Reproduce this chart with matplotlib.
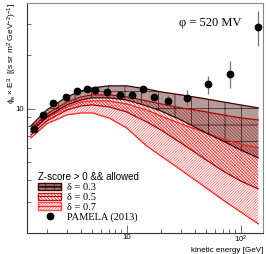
import numpy as np
import matplotlib.pyplot as plt
from matplotlib.patches import Patch
from matplotlib.lines import Line2D

plt.rcParams['font.family'] = ['Liberation Sans', 'DejaVu Sans']
plt.rcParams['hatch.linewidth'] = 0.45

# model band edges (phi x E^3) read at these energies
energy = [1.45, 2, 3, 4, 5, 7, 10, 15, 20, 30, 50, 70, 100, 143]
d03_up = [8.03, 9.87, 11.68, 12.62, 13.12, 13.47, 13.47, 12.95, 12.46, 11.99, 11.38, 10.95, 10.53, 10.13]
d03_lo = [7.43, 9.02, 10.53, 11.23, 11.53, 11.53, 11.23, 10.39, 9.74, 8.67, 7.33, 6.61, 5.88, 5.31]
d05_up = [7.72, 9.37, 10.95, 11.68, 11.99, 11.99, 11.68, 11.09, 10.67, 10.13, 9.62, 9.25, 8.90, 8.67]
d05_lo = [7.14, 8.56, 9.87, 10.39, 10.53, 10.26, 9.62, 8.45, 7.62, 6.44, 5.17, 4.48, 3.94, 3.55]
d07_up = [7.43, 8.90, 10.26, 10.95, 11.09, 11.09, 10.67, 9.87, 9.13, 8.24, 7.33, 6.78, 6.36, 6.04]
d07_lo = [6.87, 8.24, 9.25, 9.49, 9.49, 8.90, 7.82, 6.20, 5.44, 4.54, 3.60, 3.08, 2.64, 2.26]

# PAMELA (2013)
pam_e = [1.55, 1.84, 2.28, 2.94, 3.70, 4.48, 5.32, 6.74, 8.77, 11.24, 13.96, 17.35, 23.3, 33.9, 51.9, 80.9, 142.6]
pam_y = [7.75, 9.22, 10.85, 11.72, 12.62, 13.0, 12.83, 12.41, 11.99, 11.99, 12.9, 11.63, 11.13, 11.57, 13.78, 15.8, 28.9]
pam_err = [0.2, 0.2, 0.2, 0.2, 0.2, 0.2, 0.2, 0.25, 0.3, 0.35, 0.6, 0.5, 0.8, 1.15, 1.6, 2.7, 6.4]

c03_fill = (0.42, 0.22, 0.22, 0.5)
c03_line = '#3a0000'
c05 = '#b00000'
c07 = '#ff2020'

fig = plt.figure(figsize=(2.66, 2.54), dpi=100)
ax = fig.add_axes([0.1004, 0.0815, 0.8865, 0.9079])

# delta = 0.7
ax.fill_between(energy, d07_lo, d07_up, facecolor='none', edgecolor='#ff5050', hatch='////////////', linewidth=0)
ax.plot(energy, d07_up, color=c07, lw=0.9)
ax.plot(energy, d07_lo, color=c07, lw=0.9)
# delta = 0.5
ax.fill_between(energy, d05_lo, d05_up, facecolor='none', edgecolor='#d01010', hatch='\\\\\\\\\\\\\\\\\\\\', linewidth=0)
ax.plot(energy, d05_up, color=c05, lw=0.9)
ax.plot(energy, d05_lo, color=c05, lw=0.9)
# delta = 0.3
ax.fill_between(energy, d03_lo, d03_up, facecolor=c03_fill, edgecolor=c03_line, hatch='+', linewidth=0)
ax.plot(energy, d03_up, color='#400000', lw=0.9)
ax.plot(energy, d03_lo, color='#400000', lw=0.9)

ax.errorbar(pam_e, pam_y, yerr=pam_err, fmt='o', color='black', ms=4.6, ecolor='#777777', elinewidth=0.9, capsize=0)

ax.set_xscale('log')
ax.set_yscale('log')
ax.set_xlim(1.332, 156)
ax.set_ylim(2.0, 39.5)

ax.set_xticks([10, 100])
ax.set_xticklabels(['10', r'$\mathregular{10^{2}}$'])
ax.set_yticks([10])
ax.set_yticklabels(['10'])
ax.yaxis.set_minor_formatter(plt.NullFormatter())
ax.xaxis.set_minor_formatter(plt.NullFormatter())
ax.tick_params(which='both', direction='in', labelsize=5.6, width=0.6, color='#555555')
ax.tick_params(axis='x', pad=0.5)
ax.tick_params(axis='y', pad=2)
ax.tick_params(which='major', length=6)
ax.tick_params(which='minor', length=3)
for s in ['top', 'right']:
    ax.spines[s].set_color('#888888')
for s in ['left', 'bottom']:
    ax.spines[s].set_color('#333333')
for s in ax.spines.values():
    s.set_linewidth(0.8)

ax.text(0.78, 0.913, 'φ = 520 MV', transform=ax.transAxes, ha='center', va='center',
        fontsize=9, family=['Liberation Serif', 'DejaVu Serif'])

fig.text(0.045, 0.99, r'$\mathregular{\phi_{e} \times E^{3}}$  [(s sr m$\mathregular{^{2}}$ GeV$\mathregular{^{-2}}$)$\mathregular{^{-1}}$]',
         rotation=90, ha='center', va='top', fontsize=6)
fig.text(0.992, 0.0, 'kinetic energy [GeV]', ha='right', va='bottom', fontsize=5.8)

handles = [
    (Patch(facecolor=(0.42, 0.22, 0.22, 0.65), edgecolor=c03_line, hatch='++'), Line2D([], [], color=c03_line, lw=0.9)),
    (Patch(facecolor='none', edgecolor='#d01010', hatch='\\\\\\\\\\\\\\\\\\\\'), Line2D([], [], color=c05, lw=0.9)),
    (Patch(facecolor='none', edgecolor='#ff5050', hatch='////////////'), Line2D([], [], color=c07, lw=0.9)),
    Line2D([], [], marker='o', color='black', ls='none', ms=4.6),
]
labels = ['δ = 0.3', 'δ = 0.5', 'δ = 0.7', 'PAMELA (2013)']
leg = ax.legend(handles, labels, title='Z-score > 0 && allowed', loc='lower left',
                bbox_to_anchor=(0.05, 0.05), frameon=False, alignment='left',
                prop={'family': ['Liberation Serif', 'DejaVu Serif'], 'size': 7.5},
                title_fontsize=7, borderpad=0, borderaxespad=0, labelspacing=0.05,
                handlelength=2.2, handleheight=0.7, handletextpad=0.5)

fig.savefig('out.png', dpi=100)
